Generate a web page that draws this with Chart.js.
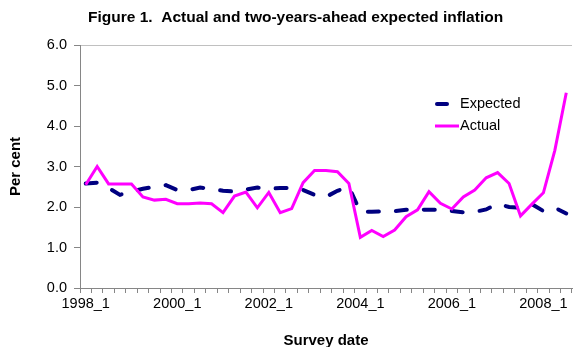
<!DOCTYPE html>
<html>
<head>
<meta charset="utf-8">
<script src="https://cdn.jsdelivr.net/npm/chart.js@4.4.0/dist/chart.umd.min.js"></script>
<style>
  html, body { margin: 0; padding: 0; background: #ffffff; }
  #wrap { position: relative; width: 577px; height: 347px; }
</style>
</head>
<body>
<div id="wrap"><canvas id="chart" width="577" height="347"></canvas></div>
<script>
// Survey quarters (x categories)
const quarters = [
    '1998_1', '1998_2', '1998_3', '1998_4', '1999_1', '1999_2', '1999_3', '1999_4',
    '2000_1', '2000_2', '2000_3', '2000_4', '2001_1', '2001_2', '2001_3', '2001_4',
    '2002_1', '2002_2', '2002_3', '2002_4', '2003_1', '2003_2', '2003_3', '2003_4',
    '2004_1', '2004_2', '2004_3', '2004_4', '2005_1', '2005_2', '2005_3', '2005_4',
    '2006_1', '2006_2', '2006_3', '2006_4', '2007_1', '2007_2', '2007_3', '2007_4',
    '2008_1', '2008_2', '2008_3'
];

// Two-years-ahead expected inflation (per cent)
const expected = [
    2.58, 2.60, 2.47, 2.30, 2.38, 2.45, 2.50, 2.54, 2.42, 2.42,
    2.48, 2.45, 2.40, 2.38, 2.43, 2.48, 2.45, 2.47, 2.47, 2.42,
    2.30, 2.25, 2.40, 2.50, 1.88, 1.88, 1.89, 1.90, 1.93, 1.94,
    1.93, 1.93, 1.90, 1.87, 1.88, 1.94, 2.08, 2.00, 1.98, 2.07,
    1.90, 1.98, 1.84
];

// Actual inflation (per cent)
const actual = [
    2.55, 3.00, 2.57, 2.57, 2.57, 2.25, 2.17, 2.19, 2.08, 2.08,
    2.10, 2.08, 1.86, 2.27, 2.37, 1.98, 2.36, 1.86, 1.96, 2.60,
    2.90, 2.90, 2.87, 2.58, 1.25, 1.42, 1.27, 1.43, 1.76, 1.93,
    2.38, 2.09, 1.95, 2.25, 2.42, 2.72, 2.85, 2.58, 1.78, 2.07,
    2.35, 3.40, 4.82
];

// Show a category label every eight quarters
const labelEvery = 8;

const FONT = "'Liberation Sans', Arial, sans-serif";
const NAVY = '#000080';
const PINK = '#FF00FF';
const AXIS_GREY = '#868686';

// Title and in-plot legend, drawn on top of the chart
const overlayPlugin = {
    id: 'overlay',
    afterDraw(chart) {
        const ctx = chart.ctx;
        ctx.save();
        ctx.fillStyle = '#000';
        ctx.textBaseline = 'middle';
        ctx.font = 'bold 15.5px ' + FONT;
        ctx.fillText('Figure 1.  Actual and two-years-ahead expected inflation', 88, 18);

        // legend samples
        ctx.lineCap = 'round';
        ctx.strokeStyle = NAVY;
        ctx.lineWidth = 4;
        ctx.beginPath();
        ctx.moveTo(437, 104);
        ctx.lineTo(447, 104);
        ctx.stroke();

        ctx.lineCap = 'butt';
        ctx.strokeStyle = PINK;
        ctx.lineWidth = 3;
        ctx.beginPath();
        ctx.moveTo(435, 126);
        ctx.lineTo(459, 126);
        ctx.stroke();

        ctx.font = '14.5px ' + FONT;
        ctx.fillText('Expected', 460, 104);
        ctx.fillText('Actual', 460, 126);
        ctx.restore();
    }
};

new Chart(document.getElementById('chart'), {
    type: 'line',
    data: {
        labels: quarters,
        datasets: [
            {
                label: 'Expected',
                data: expected,
                borderColor: NAVY,
                backgroundColor: NAVY,
                borderWidth: 4,
                borderDash: [11, 17],
                borderCapStyle: 'round',
                pointRadius: 0,
                tension: 0,
                order: 1
            },
            {
                label: 'Actual',
                data: actual,
                borderColor: PINK,
                backgroundColor: PINK,
                borderWidth: 3,
                pointRadius: 0,
                tension: 0,
                order: 0
            }
        ]
    },
    options: {
        responsive: false,
        animation: false,
        devicePixelRatio: 1,
        layout: { padding: { left: 0, top: 45, right: 5, bottom: 0 } },
        plugins: {
            legend: { display: false },
            title: { display: false },
            tooltip: { enabled: false }
        },
        scales: {
            x: {
                type: 'category',
                offset: true,
                grid: {
                    offset: true,
                    drawOnChartArea: false,
                    drawTicks: true,
                    tickLength: 5,
                    color: AXIS_GREY
                },
                border: { color: AXIS_GREY, width: 1 },
                ticks: {
                    autoSkip: false,
                    maxRotation: 0,
                    padding: 2,
                    color: '#000',
                    font: { family: FONT, size: 14.5 },
                    callback: (value, index) => index % labelEvery === 0 ? quarters[index] : ''
                },
                title: {
                    display: true,
                    text: 'Survey date',
                    color: '#000',
                    font: { family: FONT, size: 15, weight: 'bold' },
                    padding: { top: 12, bottom: -3 }
                },
                afterFit: scale => { scale.height = 59; }
            },
            y: {
                min: 0,
                max: 6,
                ticks: {
                    stepSize: 1,
                    padding: 7,
                    color: '#000',
                    font: { family: FONT, size: 14.5 },
                    callback: value => value.toFixed(1)
                },
                grid: {
                    drawTicks: true,
                    tickLength: 6,
                    tickColor: AXIS_GREY,
                    color: ctx => (ctx.tick && ctx.tick.value === 6) ? '#c0c0c0' : 'rgba(0,0,0,0)'
                },
                border: { color: AXIS_GREY, width: 1 },
                title: {
                    display: true,
                    text: 'Per cent',
                    color: '#000',
                    font: { family: FONT, size: 15, weight: 'bold' },
                    padding: { top: 7, bottom: 4 }
                },
                afterFit: scale => { scale.width = 80; }
            }
        }
    },
    plugins: [overlayPlugin]
});
</script>
</body>
</html>
